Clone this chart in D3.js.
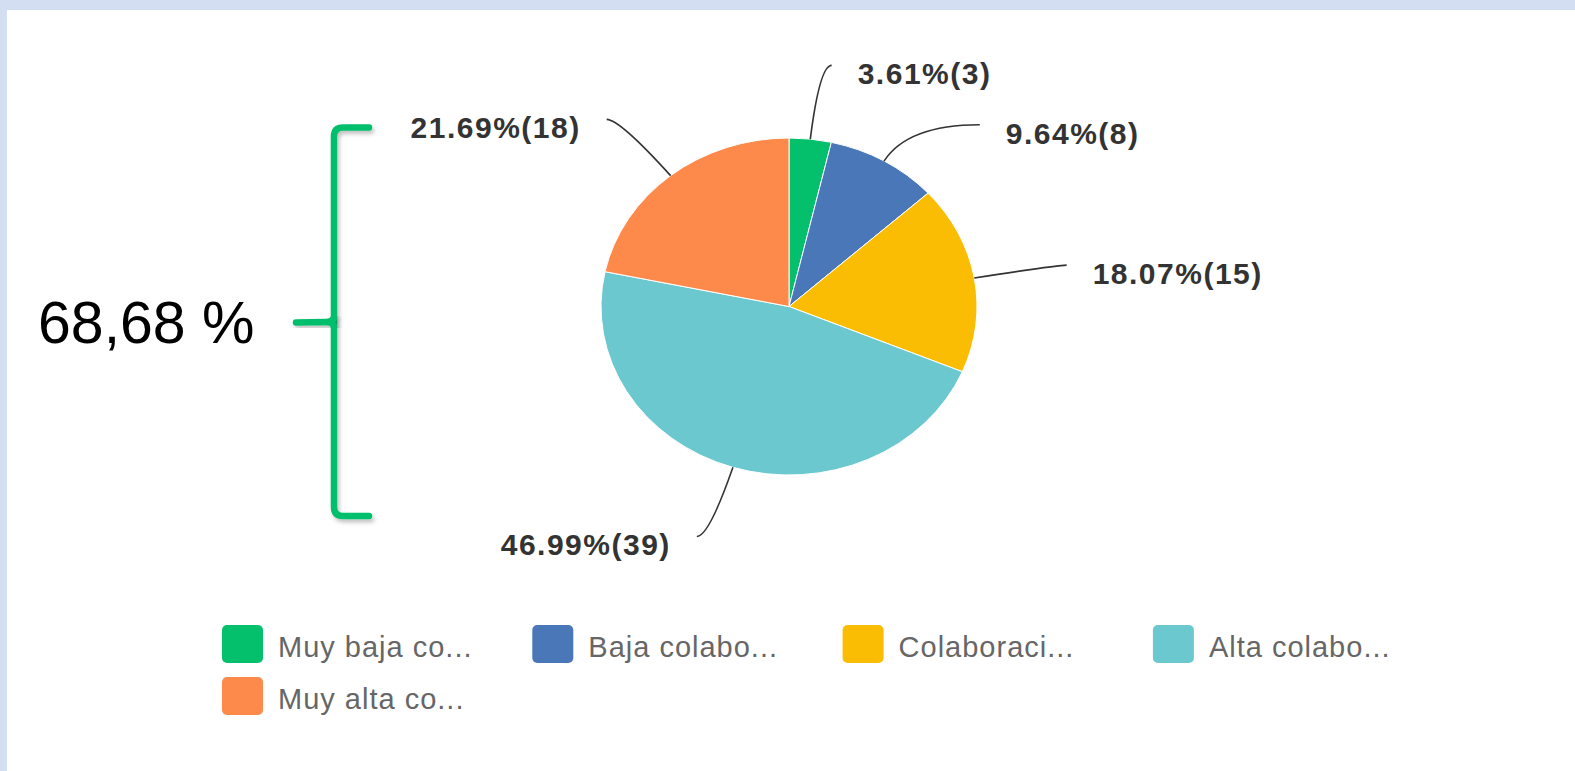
<!DOCTYPE html>
<html>
<head>
<meta charset="utf-8">
<script src="https://cdn.jsdelivr.net/npm/d3@7/dist/d3.min.js"></script>
<style>
  html, body { margin: 0; padding: 0; background: #d4def2; }
  svg { display: block; }
</style>
</head>
<body>
<svg id="chart" width="1575" height="771"></svg>
<script>
// ---- data ----
const categories = ["Muy baja colaboración", "Baja colaboración", "Colaboración", "Alta colaboración", "Muy alta colaboración"];
const legendLabels = ["Muy baja co...", "Baja colabo...", "Colaboraci...", "Alta colabo...", "Muy alta co..."];
const counts = [3, 8, 15, 39, 18];
const colors = ["#04bf6c", "#4a77b8", "#fbbd03", "#6cc8cf", "#fd894b"];
const annotationText = "68,68 %";

// ---- layout options (label line lengths per slice) ----
const lineRadial = [1.44, 1.25, 1.45, 1.43, 1.43];
const lineHoriz = [12, 72, 9, 12, 13];

const W = 1575, H = 771;
const svg = d3.select("#chart");

// white panel with light-blue border on top/left
svg.append("rect").attr("x", 7).attr("y", 10).attr("width", W - 7).attr("height", H - 10).attr("fill", "#ffffff");

const cx = 789, cy = 306.5, rx = 188, ry = 168.5;
const total = d3.sum(counts);
const data = counts.map((v, i) => ({ name: categories[i], value: v, color: colors[i], i }));

const pie = d3.pie().value(d => d.value).sort(null);
const arcs = pie(data);
const arc = d3.arc().innerRadius(0).outerRadius(ry);

const gPie = svg.append("g").attr("transform", `translate(${cx},${cy}) scale(${rx / ry},1)`);
gPie.selectAll("path").data(arcs).join("path")
  .attr("d", arc)
  .attr("fill", d => d.data.color)
  .attr("stroke", "#ffffff")
  .attr("stroke-width", 1)
  .attr("vector-effect", "non-scaling-stroke");

// leader lines and labels
function pt(a, k) {
  return [cx + rx * k * Math.sin(a), cy - ry * k * Math.cos(a)];
}
const gLab = svg.append("g");
arcs.forEach((d, i) => {
  const a = (d.startAngle + d.endAngle) / 2;
  const side = Math.sin(a) >= 0 ? 1 : -1;
  const p0 = pt(a, 1);
  const p1 = pt(a, lineRadial[i]);
  const p2 = [p1[0] + side * lineHoriz[i], p1[1]];
  const path = d3.path();
  path.moveTo(p0[0], p0[1]);
  path.quadraticCurveTo(p1[0], p1[1], p2[0], p2[1]);
  gLab.append("path").attr("d", path.toString())
    .attr("fill", "none").attr("stroke", "#333333").attr("stroke-width", 1.6);
  const pct = (d.data.value / total * 100).toFixed(2);
  gLab.append("text")
    .attr("x", p2[0] + side * 26)
    .attr("y", p2[1] + 8)
    .attr("dy", "0.36em")
    .attr("text-anchor", side > 0 ? "start" : "end")
    .attr("font-family", "'Liberation Sans', Arial, sans-serif")
    .attr("font-weight", "bold")
    .attr("font-size", 30)
    .attr("letter-spacing", 1.5)
    .attr("fill", "#333333")
    .text(`${pct}%(${d.data.value})`);
});

// legend
const legX0 = 222, legY0 = 625, legDX = 310.3, legDY = 52, perRow = 4;
const gLeg = svg.append("g");
legendLabels.forEach((lab, i) => {
  const col = i % perRow, row = Math.floor(i / perRow);
  const x = legX0 + col * legDX, y = legY0 + row * legDY;
  gLeg.append("rect").attr("x", x).attr("y", y).attr("width", 41).attr("height", 38)
    .attr("rx", 5).attr("fill", colors[i]);
  gLeg.append("text").attr("x", x + 56).attr("y", y + 32)
    .attr("font-family", "'Liberation Sans', Arial, sans-serif")
    .attr("font-size", 29)
    .attr("letter-spacing", 1)
    .attr("fill", "#666666")
    .text(lab);
});

// annotation bracket
const defs = svg.append("defs");
const f = defs.append("filter").attr("id", "sh").attr("x", "-50%").attr("y", "-10%").attr("width", "200%").attr("height", "120%");
f.append("feDropShadow").attr("dx", 2).attr("dy", 3).attr("stdDeviation", 2).attr("flood-color", "#000").attr("flood-opacity", 0.25);

const bx = 334, bTop = 127.5, bBot = 516, bMid = 322, bRight = 369, bLeft = 296, r = 9;
const bp = d3.path();
bp.moveTo(bRight, bTop);
bp.lineTo(bx + r, bTop);
bp.quadraticCurveTo(bx, bTop, bx, bTop + r);
bp.lineTo(bx, bBot - r);
bp.quadraticCurveTo(bx, bBot, bx + r, bBot);
bp.lineTo(bRight, bBot);
svg.append("path").attr("d", bp.toString()).attr("fill", "none")
  .attr("stroke", "#04bf6c").attr("stroke-width", 6.5).attr("stroke-linecap", "round")
  .attr("filter", "url(#sh)");
const tp = d3.path();
tp.moveTo(bLeft, bMid + 0.5);
tp.lineTo(bx - 8, bMid);
tp.quadraticCurveTo(bx - 1, bMid, bx, bMid - 5);
tp.moveTo(bx - 8, bMid);
tp.quadraticCurveTo(bx - 1, bMid, bx, bMid + 5);
svg.append("path").attr("d", tp.toString()).attr("fill", "none")
  .attr("stroke", "#04bf6c").attr("stroke-width", 6.5).attr("stroke-linecap", "round")
  .attr("filter", "url(#sh)");

svg.append("text").attr("x", 38).attr("y", 343)
  .attr("font-family", "'Liberation Sans', Arial, sans-serif")
  .attr("font-size", 59)
  .attr("fill", "#000000")
  .text(annotationText);
</script>
</body>
</html>
